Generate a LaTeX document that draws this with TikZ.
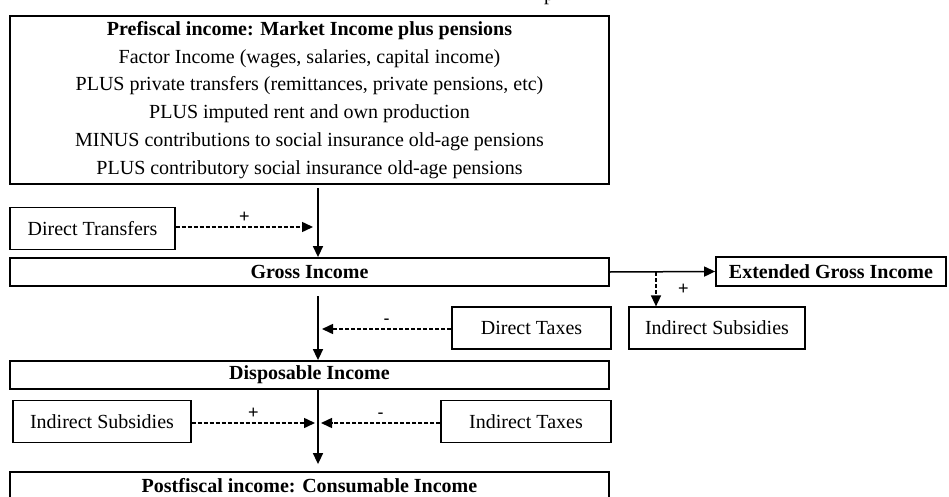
\documentclass[tikz,border=0pt]{standalone}
\usepackage{fontspec}
\setmainfont{Liberation Serif}
\newfontfamily\signfont{Liberation Sans}
\usetikzlibrary{arrows.meta}
\tikzset{
  incbox/.style={draw, line width=1.8pt, inner sep=0pt, align=center, font=\fontsize{20}{27.8}\selectfont},
  fiscbox/.style={draw, line width=1.2pt, inner sep=0pt, minimum height=42, font=\fontsize{20}{24}\selectfont},
  flow/.style={-{Triangle[length=11pt,width=10pt]}, line width=1.5pt},
  fiscflow/.style={flow, dash pattern=on 4pt off 2pt},
  sgn/.style={font=\signfont\fontsize{18}{18}\selectfont}
}

\begin{document}
\begin{tikzpicture}[x=1pt, y=-1pt]
\useasboundingbox (0,0) rectangle (949,497);
% income concepts
\node[incbox, minimum width=599, minimum height=168] (prefisc) at (309.5,100)
  {\textbf{Prefiscal income: Market Income plus pensions}\\
   Factor Income (wages, salaries, capital income)\\
   PLUS private transfers (remittances, private pensions, etc)\\
   PLUS imputed rent and own production\\
   MINUS contributions to social insurance old-age pensions\\
   PLUS contributory social insurance old-age pensions};
\node[incbox, minimum width=599, minimum height=28] (gross) at (309.5,272) {\textbf{Gross Income}};
\node[incbox, minimum width=230, minimum height=29] (extgross) at (831,271.5) {\textbf{Extended Gross Income}};
\node[incbox, minimum width=599, minimum height=28] (dispo) at (309.5,375) {\textbf{Disposable Income}};
\node[incbox, minimum width=599, minimum height=28] (postfisc) at (309.5,486) {\textbf{Postfiscal income: Consumable Income}};
\node[anchor=base, font=\fontsize{20}{24}\selectfont, inner sep=0pt] (pcut) at (549,0.5) {p};
% fiscal interventions
\node[fiscbox, minimum width=165] (dtrans) at (92.5,228.5) {Direct Transfers};
\node[fiscbox, minimum width=159] (dtax) at (531.5,328) {Direct Taxes};
\node[fiscbox, minimum width=176] (isubr) at (717,328) {Indirect Subsidies};
\node[fiscbox, minimum width=178] (isubl) at (102,421.5) {Indirect Subsidies};
\node[fiscbox, minimum width=170] (itax) at (526,421.5) {Indirect Taxes};
% main flow
\coordinate (a1) at (318,188);
\coordinate (a2) at (318,296);
\coordinate (a3) at (318,390);
\coordinate (j1) at (318,227);
\coordinate (j2) at (318,329);
\coordinate (j3) at (318,423);
\coordinate (e1) at (656,272);
\draw[flow] (a1) -- (a1 |- gross.north);
\draw[flow] (a2) -- (a2 |- dispo.north);
\draw[flow] (a3) -- ([yshift=7pt]a3 |- postfisc.north);
\draw[flow] (gross.east) -- (extgross.west);
% fiscal flows
\draw[fiscflow] (dtrans.east |- j1) -- ([xshift=-5pt]j1) node[midway, above, sgn] {+};
\draw[fiscflow] (dtax.west |- j2) -- ([xshift=4pt]j2) node[midway, above, sgn] {-};
\draw[fiscflow] (isubl.east |- j3) -- ([xshift=-3pt]j3) node[midway, above, sgn] {+};
\draw[fiscflow] (itax.west |- j3) -- ([xshift=3pt]j3) node[midway, above, sgn] {-};
\draw[fiscflow] (e1) -- (e1 |- isubr.north) node[midway, right=18pt, sgn] {+};
\end{tikzpicture}
\end{document}
